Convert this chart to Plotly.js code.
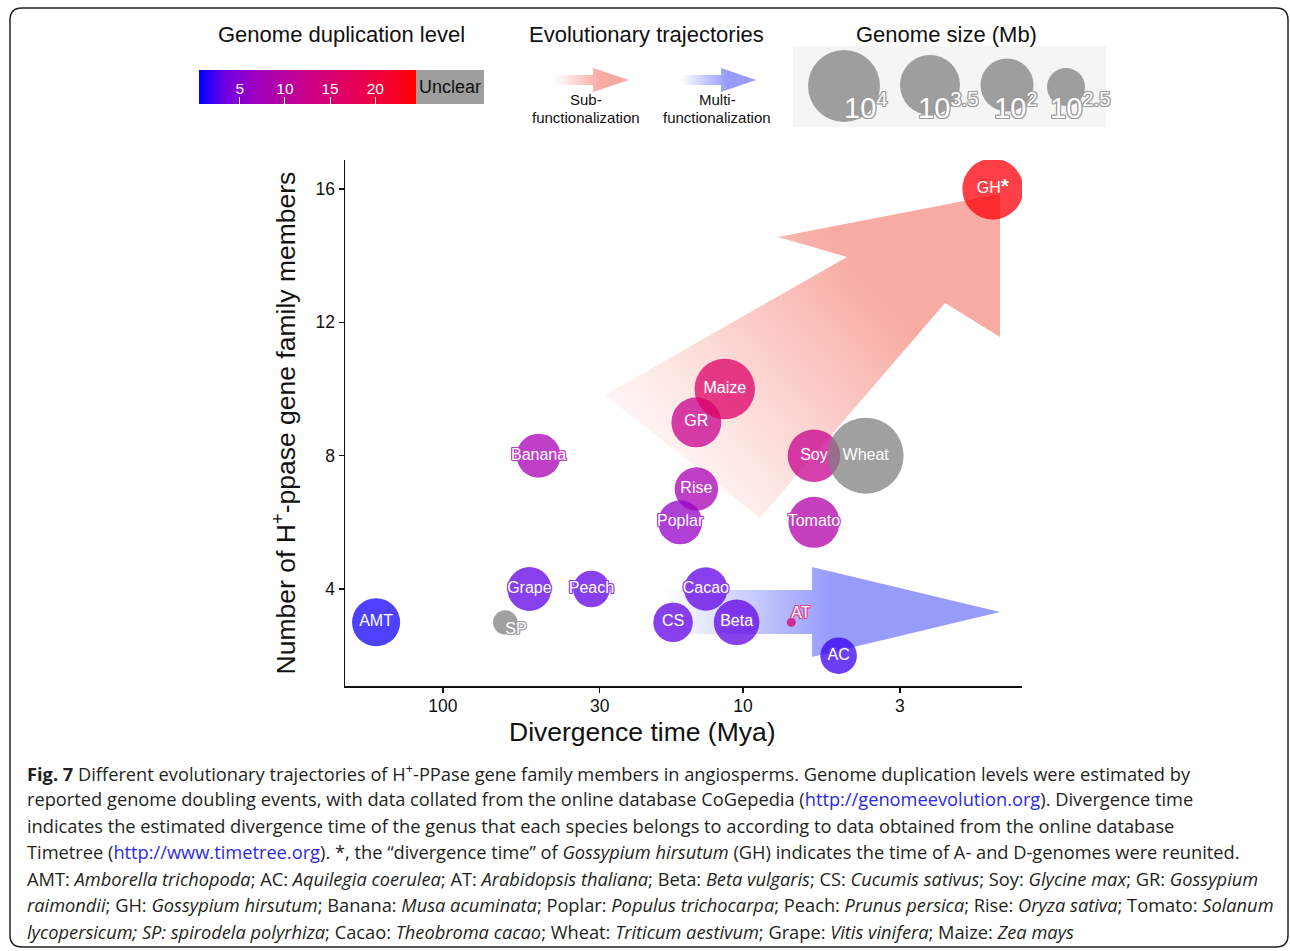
<!DOCTYPE html>
<html>
<head>
<meta charset="utf-8">
<script src="https://cdn.plot.ly/plotly-3.0.1.min.js"></script>
<style>
html,body{margin:0;padding:0;background:#ffffff;}
#chart{width:1290px;height:951px;}
</style>
</head>
<body>
<div id="chart"></div>
<script>
// ---------------- data ----------------
const species          = ['AMT','SP','Grape','Peach','Banana','CS','Rise','Poplar','GR','Maize','Beta','Cacao','AT','Soy','Tomato','AC','Wheat','GH'];
const divergenceMya    = [167, 62, 51.5, 32, 48, 17.1, 14.3, 16.2, 14.3, 11.5, 10.5, 13.3, 6.9, 5.8, 5.8, 4.8, 3.9, 1.47];
const geneMembers      = [3, 3, 4, 4, 8, 3, 7, 6, 9, 10, 3, 4, 3, 8, 6, 2, 8, 16];
const duplicationLevel = [1, null, 3, 3, 8, 3, 8, 6, 12, 16, 3, 3, 15, 12, 9, 2, null, 24]; // null = Unclear
const genomeSizeLog10  = [2.96, 1.93, 2.78, 2.46, 2.78, 2.59, 2.76, 2.78, 3.04, 3.5, 2.85, 2.76, 1.26, 3.15, 3.09, 2.46, 4.17, 3.52];
const displayLabels    = ['AMT','SP','Grape','Peach','Banana','CS','Rise','Poplar','GR','Maize','Beta','Cacao','AT','Soy','Tomato','AC','Wheat','GH<span style="font-size:21px"><b>*</b></span>'];

const xTickVals = [100, 30, 10, 3];
const yTickVals = [4, 8, 12, 16];
const colorTickVals = [5, 10, 15, 20];
const sizeLegendLabels = ['10<sup>4</sup>', '10<sup>3.5</sup>', '10<sup>2</sup>', '10<sup>2.5</sup>'];

const captionLines = [
  '<b>Fig. 7</b> Different evolutionary trajectories of H<sup>+</sup>-PPase gene family members in angiosperms. Genome duplication levels were estimated by',
  'reported genome doubling events, with data collated from the online database CoGepedia (<span style="color:#2a2ae6">http://genomeevolution.org</span>). Divergence time',
  'indicates the estimated divergence time of the genus that each species belongs to according to data obtained from the online database',
  'Timetree (<span style="color:#2a2ae6">http://www.timetree.org</span>). *, the \u201cdivergence time\u201d of <i>Gossypium hirsutum</i> (GH) indicates the time of A- and D-genomes were reunited.',
  'AMT: <i>Amborella trichopoda</i>; AC: <i>Aquilegia coerulea</i>; AT: <i>Arabidopsis thaliana</i>; Beta: <i>Beta vulgaris</i>; CS: <i>Cucumis sativus</i>; Soy: <i>Glycine max</i>; GR: <i>Gossypium</i>',
  '<i>raimondii</i>; GH: <i>Gossypium hirsutum</i>; Banana: <i>Musa acuminata</i>; Poplar: <i>Populus trichocarpa</i>; Peach: <i>Prunus persica</i>; Rise: <i>Oryza sativa</i>; Tomato: <i>Solanum</i>',
  '<i>lycopersicum; SP: spirodela polyrhiza</i>; Cacao: <i>Theobroma cacao</i>; Wheat: <i>Triticum aestivum</i>; Grape: <i>Vitis vinifera</i>; Maize: <i>Zea mays</i>'
];

// ---------------- styling helpers ----------------
const PL = 345, PR = 1022, PT = 160, PB = 686;
const PW = PR - PL, PH = PB - PT;
const fx = px => (px - PL) / PW;
const fy = py => (PB - py) / PH;

const CMIN = 0.5, CMAX = 24.5;
const colorStops = [[0,'#0000FF'],[0.125,'#7300E1'],[0.25,'#9A00C2'],[0.375,'#B500A5'],[0.5,'#CA0089'],[0.625,'#DA006C'],[0.75,'#E80050'],[0.875,'#F40031'],[1,'#FF0000']];
const MARKER_ALPHA = 0.75;
const bubbleDiameter = L => 23 * L - 20;

// colour bar geometry (pixels)
const CB_X0 = 199, CB_X1 = 416, CB_Y0 = 70, CB_Y1 = 104;

function hex2rgb(h){return [parseInt(h.substr(1,2),16),parseInt(h.substr(3,2),16),parseInt(h.substr(5,2),16)];}
function scaleColor(v){
  const t = Math.max(0, Math.min(1, (v - CMIN) / (CMAX - CMIN)));
  for (let i = 1; i < colorStops.length; i++){
    if (t <= colorStops[i][0]){
      const a = colorStops[i-1], b = colorStops[i];
      const f = (t - a[0]) / (b[0] - a[0]);
      const ca = hex2rgb(a[1]), cb = hex2rgb(b[1]);
      return ca.map((c,k) => c + f*(cb[k]-c));
    }
  }
  return hex2rgb(colorStops[colorStops.length-1][1]);
}
function blended(rgb){
  const c = rgb.map(v => Math.round(v*MARKER_ALPHA + 255*(1-MARKER_ALPHA)));
  return 'rgb(' + c.join(',') + ')';
}
function halo(col){
  const o = ['1px 0','-1px 0','0 1px','0 -1px','1px 1px','-1px -1px','1px -1px','-1px 1px'];
  return o.map(s => col + ' ' + s + ' 0').join(', ');
}
const UNCLEAR_GREY = '#808080';

// ---------------- traces ----------------
const colIdx = [], greyIdx = [];
duplicationLevel.forEach((d,i) => (d === null ? greyIdx : colIdx).push(i));
const pick = (arr, idx) => idx.map(i => arr[i]);

const coloured = {
  type:'scatter', mode:'markers',
  x: pick(divergenceMya, colIdx), y: pick(geneMembers, colIdx),
  text: pick(species, colIdx), hoverinfo:'text',
  marker:{
    size: pick(genomeSizeLog10, colIdx).map(bubbleDiameter), sizemode:'diameter',
    color: pick(duplicationLevel, colIdx), cmin: CMIN, cmax: CMAX,
    colorscale: colorStops, opacity: MARKER_ALPHA, line:{width:0},
    showscale: true,
    colorbar:{
      orientation:'h', x: fx((CB_X0+CB_X1)/2), xanchor:'center', y: fy((CB_Y0+CB_Y1)/2), yanchor:'middle',
      len: CB_X1-CB_X0, lenmode:'pixels', thickness: CB_Y1-CB_Y0, thicknessmode:'pixels',
      outlinewidth: 0, xpad: 0, ypad: 0,
      tickvals: colorTickVals, ticks:'inside', ticklen: 7, tickwidth: 1, tickcolor:'#ffffff',
      ticklabelposition:'inside',
      tickfont:{size:15.5, color:'#ffffff', family:'Liberation Sans, Arial, sans-serif'}
    }
  }
};
const grey = {
  type:'scatter', mode:'markers',
  x: pick(divergenceMya, greyIdx), y: pick(geneMembers, greyIdx),
  text: pick(species, greyIdx), hoverinfo:'text',
  marker:{size: pick(genomeSizeLog10, greyIdx).map(bubbleDiameter), sizemode:'diameter',
          color: UNCLEAR_GREY, opacity: MARKER_ALPHA, line:{width:0}}
};
const labelPos = {SP:'bottom right', AT:'top right'};
const haloColours = duplicationLevel.map(d => d === null ? blended(hex2rgb(UNCLEAR_GREY)) : blended(scaleColor(d)));
const labels = {
  type:'scatter', mode:'text', x: divergenceMya, y: geneMembers,
  text: displayLabels, hoverinfo:'skip',
  textposition: species.map(s => labelPos[s] || 'middle center'),
  textfont:{size:16, color:'#ffffff', family:'Liberation Sans, Arial, sans-serif',
            shadow: haloColours.map(halo)}
};

// ---------------- decorative arrows (gradient) as an SVG image ----------------
const RED = '#F8ABA3', BLUE = '#979CFA';
const svg =
`<svg xmlns="http://www.w3.org/2000/svg" width="1290" height="951" viewBox="0 0 1290 951">
<defs>
<linearGradient id="gr" gradientUnits="userSpaceOnUse" x1="640" y1="500" x2="880" y2="290">
<stop offset="0" stop-color="${RED}" stop-opacity="0"/><stop offset="0.35" stop-color="${RED}" stop-opacity="0.3"/><stop offset="1" stop-color="${RED}" stop-opacity="1"/></linearGradient>
<linearGradient id="gb" gradientUnits="userSpaceOnUse" x1="665" y1="0" x2="830" y2="0">
<stop offset="0" stop-color="${BLUE}" stop-opacity="0"/><stop offset="1" stop-color="${BLUE}" stop-opacity="1"/></linearGradient>
<linearGradient id="lr" gradientUnits="userSpaceOnUse" x1="553" y1="0" x2="600" y2="0">
<stop offset="0" stop-color="${RED}" stop-opacity="0"/><stop offset="1" stop-color="${RED}" stop-opacity="1"/></linearGradient>
<linearGradient id="lb" gradientUnits="userSpaceOnUse" x1="680" y1="0" x2="727" y2="0">
<stop offset="0" stop-color="${BLUE}" stop-opacity="0"/><stop offset="1" stop-color="${BLUE}" stop-opacity="1"/></linearGradient>
</defs>
<polygon fill="url(#gr)" points="605,395 847,257 778,237 1000,194 1000,337 945,303 760,518"/>
<polygon fill="url(#gb)" points="640,590 812,590 812,567 1000,612 812,657 812,634 640,634"/>
<polygon fill="url(#lr)" points="555,75 593,75 593,68 629,80 593,92 593,85 555,85"/>
<polygon fill="url(#lb)" points="682,75 721,75 721,68 756,80 721,92 721,85 682,85"/>
</svg>`;
const svgUri = 'data:image/svg+xml;charset=utf-8,' + encodeURIComponent(svg);

// ---------------- shapes ----------------
function roundRect(x0,y0,x1,y1,r){
  const P = (x,y) => fx(x) + ',' + fy(y);
  return 'M' + P(x0+r,y0) + ' L' + P(x1-r,y0) + ' Q' + P(x1,y0) + ' ' + P(x1,y0+r) +
         ' L' + P(x1,y1-r) + ' Q' + P(x1,y1) + ' ' + P(x1-r,y1) +
         ' L' + P(x0+r,y1) + ' Q' + P(x0,y1) + ' ' + P(x0,y1-r) +
         ' L' + P(x0,y0+r) + ' Q' + P(x0,y0) + ' ' + P(x0+r,y0) + ' Z';
}
const sizeLegend = [[844,86,72],[930,85,60],[1007,85,53],[1066,87,38]];
const sizeLabelPos = [[866,106],[948,106],[1016,106],[1080,106]];
const cbX = v => CB_X0 + (v - CMIN) / (CMAX - CMIN) * (CB_X1 - CB_X0);

const shapes = [
  {type:'path', xref:'paper', yref:'paper', path: roundRect(10,8,1288,947,12), line:{color:'#222', width:1.5}},
  {type:'rect', xref:'paper', yref:'paper', x0:fx(CB_X1), x1:fx(484), y0:fy(CB_Y1), y1:fy(CB_Y0), fillcolor:'#9E9E9E', line:{width:0}},
  {type:'rect', xref:'paper', yref:'paper', x0:fx(793), x1:fx(1106), y0:fy(127), y1:fy(46), fillcolor:'#F5F5F5', line:{width:0}, layer:'below'}
].concat(colorTickVals.map(v => ({
  type:'line', xref:'paper', yref:'paper', x0:fx(cbX(v)), x1:fx(cbX(v)), y0:fy(CB_Y0), y1:fy(CB_Y0+7),
  line:{color:'#ffffff', width:1}
}))).concat(sizeLegend.map(c => ({
  type:'circle', xref:'paper', yref:'paper', xsizemode:'pixel', ysizemode:'pixel',
  xanchor: fx(c[0]), yanchor: fy(c[1]), x0:-c[2]/2, x1:c[2]/2, y0:-c[2]/2, y1:c[2]/2,
  fillcolor:'#9E9E9E', line:{width:0}
})));

// ---------------- annotations ----------------
const ann = (text, px, py, opts) => Object.assign({text, xref:'paper', yref:'paper', x:fx(px), y:fy(py),
   xanchor:'center', yanchor:'middle', showarrow:false}, opts || {});
const legendFont = {size:15, color:'#111'};
const annotations = [
  ann('Genome duplication level', 341, 35, {font:{size:22, color:'#111'}}),
  ann('Evolutionary trajectories', 646, 35, {font:{size:22, color:'#111'}}),
  ann('Genome size (Mb)', 946, 35, {font:{size:22, color:'#111'}}),
  ann('Unclear', 450, 87, {font:{size:18, color:'#111'}}),
  ann('Sub-', 586, 100, {font:legendFont}),
  ann('functionalization', 586, 117, {font:legendFont}),
  ann('Multi-', 717, 100, {font:legendFont}),
  ann('functionalization', 717, 117, {font:legendFont}),
  ann('Divergence time (Mya)', 642, 732, {font:{size:26.5, color:'#111'}})
].concat(sizeLegendLabels.map((t,i) => ann(t, sizeLabelPos[i][0], sizeLabelPos[i][1],
  {font:{size:29, color:'#ffffff', shadow: halo('#9a9a9a')}})))
 .concat(captionLines.map((t,i) => ann(t, 25, 772 + i*26.5,
  {xanchor:'left', align:'left', font:{family:'"Open Sans", "Noto Sans", sans-serif', size:18.25, color:'#231f20'}})));

// ---------------- layout ----------------
const axisCommon = {showline:true, linecolor:'#111', linewidth:1.5, showgrid:false, zeroline:false,
  ticks:'outside', ticklen:5, tickwidth:1.3, tickcolor:'#111', tickfont:{size:17.5, color:'#111'}};
const layout = {
  width:1290, height:951,
  margin:{l:PL, r:1290-PR, t:PT, b:951-PB, pad:0},
  paper_bgcolor:'#ffffff', plot_bgcolor:'rgba(0,0,0,0)',
  showlegend:false,
  font:{family:'Liberation Sans, Arial, sans-serif', color:'#111'},
  xaxis: Object.assign({}, axisCommon, {
    type:'log', range:[Math.log10(212), Math.log10(1.175)],
    tickvals: xTickVals, ticktext: xTickVals.map(String), ticklabelstandoff: -2
  }),
  yaxis: Object.assign({}, axisCommon, {
    range:[1.09, 16.87], tickvals: yTickVals, ticktext: yTickVals.map(String),
    title:{text:'Number of H<sup>+</sup>-ppase gene family members', font:{size:26.5, color:'#111'}, standoff:12}
  }),
  shapes, annotations,
  images:[{source: svgUri, xref:'paper', yref:'paper', x: fx(0), y: fy(0),
           sizex: 1290/PW, sizey: 951/PH, xanchor:'left', yanchor:'top', sizing:'stretch', layer:'below'}]
};

Plotly.newPlot('chart', [coloured, grey, labels], layout, {displayModeBar:false, staticPlot:true});
</script>
</body>
</html>
